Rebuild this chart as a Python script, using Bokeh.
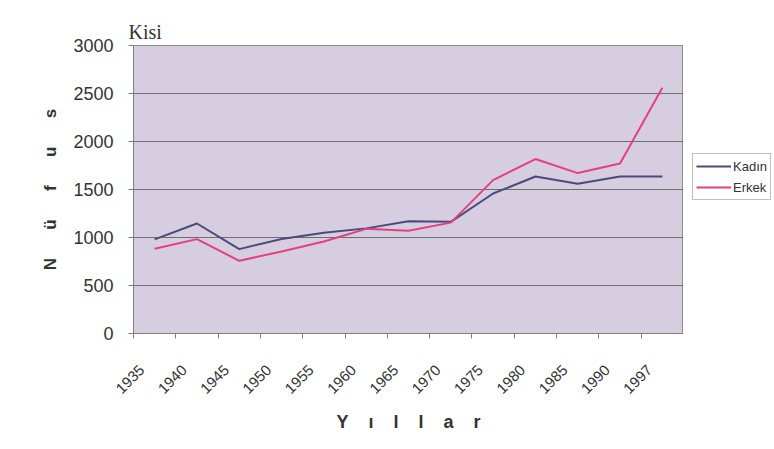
import math
from bokeh.plotting import figure
from bokeh.layouts import row
from bokeh.models import FixedTicker, Legend, LegendItem, Range1d
from bokeh.embed import file_html
from bokeh.resources import INLINE

years = ["1935", "1940", "1945", "1950", "1955", "1960", "1965",
         "1970", "1975", "1980", "1985", "1990", "1997"]
kadin = [980, 1146, 879, 985, 1050, 1095, 1170, 1163, 1458, 1635, 1559, 1635, 1635]
erkek = [882, 983, 757, 855, 958, 1090, 1070, 1155, 1598, 1817, 1671, 1771, 2560]
y_ticks = [0, 500, 1000, 1500, 2000, 2500, 3000]
series_names = ["Kadın", "Erkek"]
series_colors = ["#4a4a7c", "#e3407f"]

NB = "\u00a0"
x_title = (NB * 4).join(list("Yıllar"))
y_title = (NB * 6).join(list("Nüfus"))

n = len(years)
xs = list(range(n))
label_pos = [i - 0.3 for i in xs]

p = figure(frame_width=550, frame_height=288, output_backend="svg",
           toolbar_location=None,
           x_range=Range1d(-0.5, n - 0.5), y_range=Range1d(0, 3000),
           min_border_left=133, min_border_right=0, min_border_top=45,
           min_border_bottom=112)

p.background_fill_color = "#d6cde0"
p.border_fill_color = "white"
p.outline_line_color = "#8a8a8a"
p.outline_line_width = 1

p.title.text = "Kisi"
p.title.text_font = "Liberation Serif"
p.title.text_font_size = "20px"
p.title.text_font_style = "normal"
p.title.text_color = "#333333"
p.title.align = "left"
p.title.offset = -5
p.title.standoff = 6

# x axis: labels near category centers, tick marks at category boundaries
p.xaxis.ticker = FixedTicker(ticks=label_pos,
                             minor_ticks=[i - 0.5 for i in range(n + 1)])
p.xaxis.major_label_overrides = {label_pos[i]: years[i] for i in xs}
p.xaxis.major_tick_out = 0
p.xaxis.major_tick_in = 0
p.xaxis.minor_tick_out = 5
p.xaxis.minor_tick_in = 0
p.xaxis.minor_tick_line_color = "#808080"
p.xaxis.axis_line_color = "#808080"
p.xaxis.major_label_orientation = math.pi / 4
p.xaxis.major_label_text_font = "Liberation Sans"
p.xaxis.major_label_text_font_size = "15px"
p.xaxis.major_label_text_color = "#333333"
p.xaxis.major_label_standoff = 29
p.xaxis.axis_label = x_title
p.xaxis.axis_label_text_font = "Liberation Sans"
p.xaxis.axis_label_text_font_size = "18px"
p.xaxis.axis_label_text_font_style = "bold"
p.xaxis.axis_label_text_color = "#333333"
p.xaxis.axis_label_standoff = 11

p.yaxis.ticker = FixedTicker(ticks=y_ticks)
p.yaxis.major_tick_out = 5
p.yaxis.major_tick_in = 0
p.yaxis.minor_tick_line_color = None
p.yaxis.major_tick_line_color = "#808080"
p.yaxis.axis_line_color = "#808080"
p.yaxis.major_label_text_font = "Liberation Sans"
p.yaxis.major_label_text_font_size = "18px"
p.yaxis.major_label_text_color = "#333333"
p.yaxis.major_label_standoff = 15
p.yaxis.axis_label = y_title
p.yaxis.axis_label_text_font = "Liberation Sans"
p.yaxis.axis_label_text_font_size = "17px"
p.yaxis.axis_label_text_font_style = "bold"
p.yaxis.axis_label_text_color = "#333333"
p.yaxis.axis_label_standoff = 10

p.xgrid.grid_line_color = None
p.ygrid.ticker = FixedTicker(ticks=y_ticks)
p.ygrid.grid_line_color = "#6e6e6e"
p.ygrid.grid_line_width = 1

p.line(xs, kadin, line_color=series_colors[0], line_width=2)
p.line(xs, erkek, line_color=series_colors[1], line_width=2)

# Legend panel to the right of the plot area (its frame aligns with p's frame)
q = figure(width=91, height=p.frame_height + 45 + 112, output_backend="svg",
           toolbar_location=None, x_axis_type=None, y_axis_type=None,
           x_range=Range1d(1000, 1001), y_range=Range1d(-2, -1),
           min_border=0)
q.outline_line_color = None
q.xgrid.grid_line_color = None
q.ygrid.grid_line_color = None
q.border_fill_color = "white"
q.background_fill_color = "white"
items = []
for name, col, vals in zip(series_names, series_colors, [kadin, erkek]):
    r = q.line(xs, vals, line_color=col, line_width=2)  # out of view, legend key only
    items.append(LegendItem(label=name, renderers=[r]))

legend = Legend(items=items, location=(9, 133))
legend.label_text_font = "Liberation Sans"
legend.label_text_font_size = "13px"
legend.label_text_color = "#333333"
legend.glyph_width = 35
legend.glyph_height = 18
legend.label_height = 18
legend.label_standoff = 2
legend.spacing = 3
legend.padding = 3
legend.margin = 0
legend.border_line_color = "#808080"
legend.border_line_width = 1
legend.background_fill_color = "white"
legend.background_fill_alpha = 1
q.add_layout(legend)

layout = row(p, q)
open("out.html", "w").write(file_html(layout, INLINE))
